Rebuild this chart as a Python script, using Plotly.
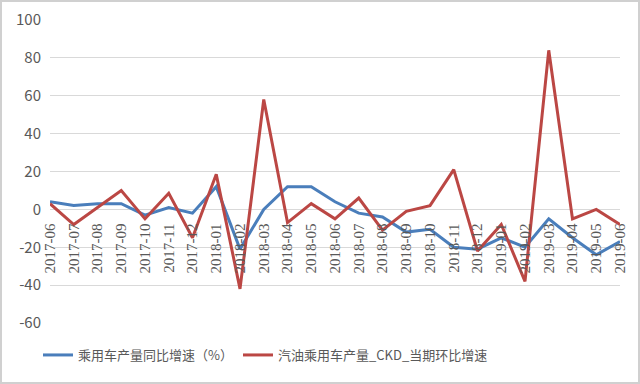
import plotly.graph_objects as go

months = ["2017-06","2017-07","2017-08","2017-09","2017-10","2017-11","2017-12",
          "2018-01","2018-02","2018-03","2018-04","2018-05","2018-06","2018-07",
          "2018-08","2018-09","2018-10","2018-11","2018-12","2019-01","2019-02",
          "2019-03","2019-04","2019-05","2019-06"]
yoy = [4, 2, 3, 3, -3, 1, -2, 12, -21, 0, 12, 12, 4, -2, -4, -12, -10.5, -20, -21,
       -15, -20, -5, -15, -24, -17]
ckd = [3, -8, 1, 10, -5, 8.5, -15, 18.5, -42, 58, -7, 3, -5, 6, -11, -1, 2, 21, -22,
       -8, -38, 84, -5, 0, -8]
names = ["乘用车产量同比增速（%）", "汽油乘用车产量_CKD_当期环比增速"]
yticks = [100, 80, 60, 40, 20, 0, -20, -40, -60]
yticktext = [str(v) for v in yticks]

ml, mr, mt, mb = 50, 20, 20, 61
W, H = 640, 384
pw, ph = W - ml - mr, H - mt - mb
ymin, ymax = -60, 100

fig = go.Figure()
fig.add_trace(go.Scatter(x=months, y=yoy, mode="lines", name=names[0],
                         line=dict(color="#4a7ebb", width=3)))
fig.add_trace(go.Scatter(x=months, y=ckd, mode="lines", name=names[1],
                         line=dict(color="#bb4744", width=3)))

font = "Noto Sans CJK SC"
fig.update_layout(
    width=W, height=H,
    margin=dict(l=ml, r=mr, t=mt, b=mb, autoexpand=False),
    paper_bgcolor="white", plot_bgcolor="white",
    showlegend=True,
    hovermode=False,
    legend=dict(orientation="h", xref="container", yref="container",
                x=38 / W, xanchor="left", y=1 - 355 / H, yanchor="middle",
                font=dict(family=font, size=13, color="#595959"),
                itemwidth=30, tracegroupgap=0, entrywidth=0),
    xaxis=dict(type="category", tickangle=-90, showgrid=False, ticks="",
               anchor="free", position=(0 - ymin) / (ymax - ymin),
               showline=False, zeroline=False, automargin=False,
               ticklabelstandoff=10,
               tickfont=dict(family="Liberation Serif", size=15, color="#595959")),
    yaxis=dict(range=[ymin, ymax], tickvals=yticks, ticktext=yticktext, showgrid=True,
               gridcolor="#d9d9d9", gridwidth=1, zeroline=False, ticks="",
               automargin=False,
               tickfont=dict(family=font, size=15, color="#595959"), ticklabelstandoff=8),
    shapes=[dict(type="rect", xref="paper", yref="paper",
                 x0=-(ml - 1) / pw, x1=1 + (mr - 1) / pw,
                 y0=-(mb - 1) / ph, y1=1 + (mt - 1) / ph,
                 line=dict(color="#d0d0d0", width=2), layer="below")],
)
fig.write_html("out.html", config={"displayModeBar": False},
               post_script="document.body.style.margin='0';document.body.style.overflow='hidden';")
